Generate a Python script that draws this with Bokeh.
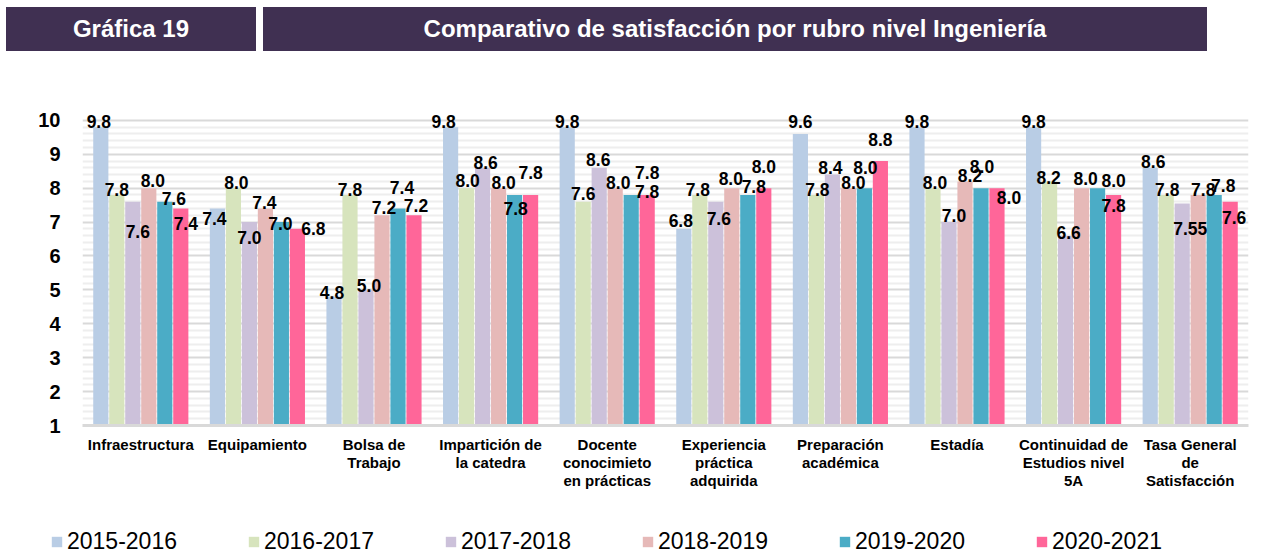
from bokeh.plotting import figure
from bokeh.models import (FactorRange, Range1d, ColumnDataSource, LabelSet, Legend, LegendItem,
                          FixedTicker, Div)
from bokeh.transform import dodge
from bokeh.layouts import column, row
from bokeh.core.properties import value
from bokeh.embed import file_html
from bokeh.resources import INLINE

# ---------------- data ----------------
categories = ["Infraestructura", "Equipamiento", "Bolsa de\nTrabajo", "Impartición de\nla catedra",
              "Docente\nconocimieto\nen prácticas", "Experiencia\npráctica\nadquirida",
              "Preparación\nacadémica", "Estadía", "Continuidad de\nEstudios nivel\n5A",
              "Tasa General\nde\nSatisfacción"]
series_names = ["2015-2016", "2016-2017", "2017-2018", "2018-2019", "2019-2020", "2020-2021"]
s2015 = [9.8, 7.4, 4.8, 9.8, 9.8, 6.8, 9.6, 9.8, 9.8, 8.6]
s2016 = [7.8, 8.0, 7.8, 8.0, 7.6, 7.8, 7.8, 8.0, 8.2, 7.8]
s2017 = [7.6, 7.0, 5.0, 8.6, 8.6, 7.6, 8.4, 7.0, 6.6, 7.55]
s2018 = [8.0, 7.4, 7.2, 8.0, 8.0, 8.0, 8.0, 8.2, 8.0, 7.8]
s2019 = [7.6, 7.0, 7.4, 7.8, 7.8, 7.8, 8.0, 8.0, 8.0, 7.8]
s2020 = [7.4, 6.8, 7.2, 7.8, 7.8, 8.0, 8.8, 8.0, 7.8, 7.6]
y_ticks = [1, 2, 3, 4, 5, 6, 7, 8, 9, 10]
header_left = "Gráfica 19"
header_title = "Comparativo de satisfacción por rubro nivel Ingeniería"

# ---------------- styles ----------------
colors = ["#b9cde5", "#d7e4bd", "#ccc1da", "#e6b9b8", "#4bacc6", "#ff6699"]
# label placement (pixels) mimicking the original's data-label positions
label_dx = [
    [-2, -3, -2, -7, 0, -3, 0, 0, 0, 3],
    [0, 3, 0, 1, 0, -2, 1, 2, -1, 1],
    [5, 0, 3, 3, -1, 3, -2, 5, 3, 8],
    [4, -1, 2, 5, 3, -1, 5, 5, 4, 5],
    [9, -1, 4, 1, 16, 6, 1, 1, 16, 9],
    [5, 16, 2, 0, 0, 0, 0, 12, 0, 4],
]
label_dy = [
    [6, -10, 4, 6, 6, 8, 12, 6, 6, 6],
    [5, 6, 5, 8, 8, 5, 5, 6, 4, 5],
    [-30, -15, 4, 5, 8, -17, 7, 7, 3, -25],
    [8, 6, 8, 6, 6, 10, 6, 6, 10, 5],
    [3, -1, 21, -14, 22, 8, 21, 22, 8, 9],
    [-15, 0, 10, 22, 3, 22, 22, -9, -11, -16],
]

W = 1267
HEADER_H = 54
MAIN_H = 456
LEG_H = 45
HEADER_COLOR = "#403052"
FONT = "Liberation Sans"


def fmt(v):
    s = f"{v:.2f}"
    return s[:-1] if s.endswith("0") else s


# ---------------- header ----------------
box_css = ("position:absolute;top:7px;height:44px;background:%s;display:flex;align-items:center;"
           "justify-content:center;box-sizing:border-box;" % HEADER_COLOR)
header_html = (
    f'<div style="position:relative;width:{W}px;height:{HEADER_H}px;font-family:\'{FONT}\',Arial,sans-serif;'
    f'font-weight:bold;font-size:24px;color:white;line-height:1;">'
    f'<div style="{box_css}left:6px;width:250px;">{header_left}</div>'
    f'<div style="{box_css}left:263px;width:944px;">{header_title}</div>'
    f'</div>'
)
hdr = Div(text=header_html, width=W, height=HEADER_H, margin=0)

# ---------------- main chart ----------------
p = figure(width=W, height=MAIN_H, x_range=FactorRange(*categories, range_padding=0),
           y_range=Range1d(1, 10.35), output_backend="svg", toolbar_location=None,
           min_border_left=82, min_border_right=19, min_border_top=54, min_border_bottom=85)
p.outline_line_color = None
p.xgrid.grid_line_color = None
p.ygrid.grid_line_color = "#d9d9d9"
p.ygrid.grid_line_width = 2
p.ygrid.minor_grid_line_color = "#eeeeee"
p.ygrid.minor_grid_line_width = 2
p.yaxis.ticker = FixedTicker(ticks=y_ticks,
                             minor_ticks=[t + k * 0.2 for t in y_ticks[:-1] for k in range(1, 5)])
p.yaxis.axis_line_color = None
p.yaxis.major_tick_line_color = None
p.yaxis.minor_tick_line_color = None
p.yaxis.major_tick_out = 0
p.yaxis.minor_tick_out = 0
p.yaxis.major_label_text_font = FONT
p.yaxis.major_label_text_font_style = "bold"
p.yaxis.major_label_text_font_size = "20px"
p.yaxis.major_label_text_color = "black"
p.yaxis.major_label_standoff = 22

p.xaxis.axis_line_color = "#d9d9d9"
p.xaxis.axis_line_width = 3
p.xaxis.major_tick_line_color = None
p.xaxis.minor_tick_line_color = None
p.xaxis.major_tick_out = 0
p.xaxis.major_label_text_font = FONT
p.xaxis.major_label_text_font_style = "bold"
p.xaxis.major_label_text_font_size = "15px"
p.xaxis.major_label_text_color = "black"
p.xaxis.major_label_text_line_height = 1.08
p.xaxis.major_label_standoff = 10
p.xaxis.major_label_orientation = "horizontal"

all_series = [s2015, s2016, s2017, s2018, s2019, s2020]
step = 0.1372
for i, (name, vals) in enumerate(zip(series_names, all_series)):
    off = (i - 2.5) * step
    src = ColumnDataSource(dict(cat=categories, val=vals, lbl=[fmt(v) for v in vals],
                                dx=label_dx[i], dy=label_dy[i]))
    p.vbar(x=dodge("cat", off, range=p.x_range), top="val", bottom=1, width=0.13, source=src,
           fill_color=colors[i], line_color=None)
    labels = LabelSet(x=dodge("cat", off, range=p.x_range), y="val", text="lbl", source=src,
                      x_offset="dx", y_offset="dy", text_align="center", text_baseline="middle",
                      text_font=value(FONT), text_font_style="bold", text_font_size="17.5px",
                      text_color="black")
    p.add_layout(labels)

# ---------------- legend strip ----------------
lf = figure(width=W, height=LEG_H, x_range=Range1d(0, 1), y_range=Range1d(0, 1),
            output_backend="svg", toolbar_location=None, min_border=0)
lf.axis.visible = False
lf.grid.visible = False
lf.outline_line_color = None
# legend-only swatch renderers (one hidden sample each, placed outside the visible range)
leg_renderers = [lf.vbar(x=[-5], top=[-5], bottom=[-6], width=0.1, fill_color=c, line_color=None)
                 for c in colors]
legend = Legend(items=[LegendItem(label=n, renderers=[r]) for n, r in zip(series_names, leg_renderers)],
                orientation="horizontal", location=(50, 0), padding=0, margin=0, spacing=70,
                glyph_width=13, glyph_height=13, label_standoff=4,
                label_text_font=FONT, label_text_font_size="23px", label_text_color="black",
                border_line_color=None, background_fill_alpha=0)
lf.add_layout(legend, "center")

layout = column(hdr, p, row(lf, spacing=0), spacing=0)
open("out.html", "w").write(file_html(layout, INLINE))
